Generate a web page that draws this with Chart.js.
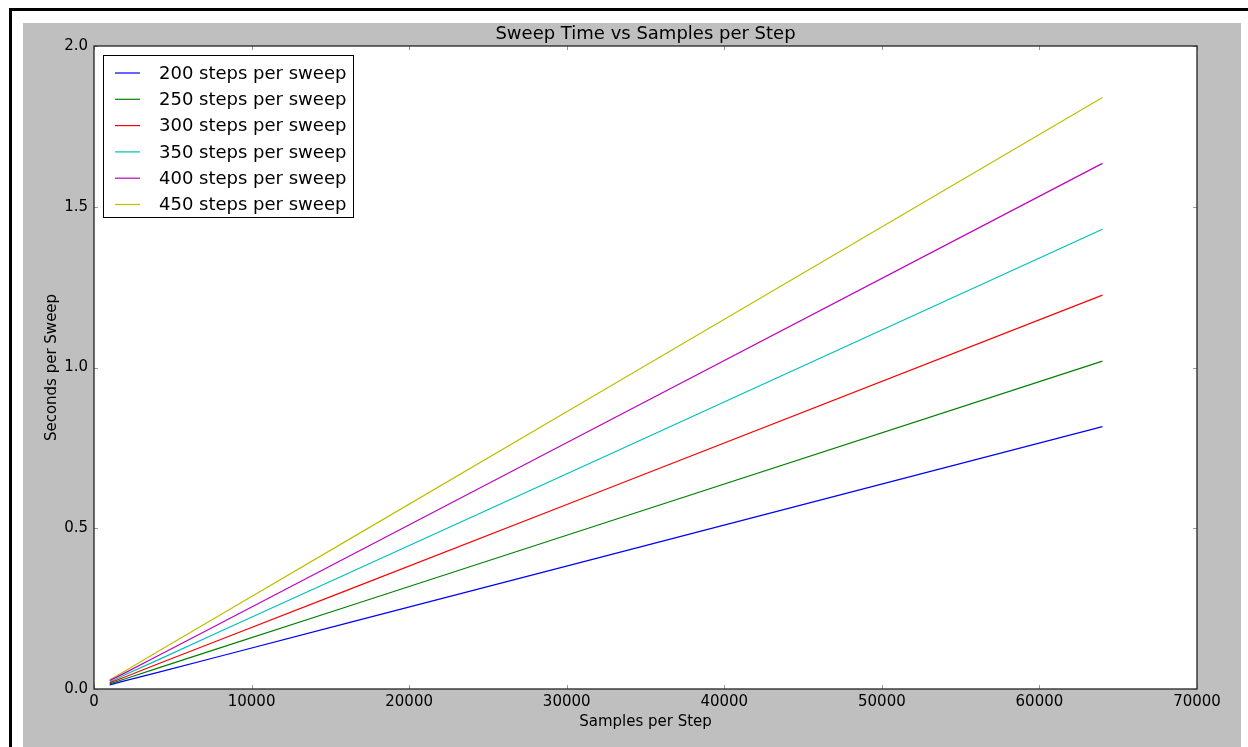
<!DOCTYPE html>
<html>
<head>
<meta charset="utf-8">
<title>Sweep Time vs Samples per Step</title>
<script src="https://cdn.jsdelivr.net/npm/chart.js@4/dist/chart.umd.min.js"></script>
<style>
  html, body { margin: 0; padding: 0; background: #fff; }
  canvas { display: block; }
</style>
</head>
<body>
<canvas id="sweepChart" width="1248" height="747"></canvas>
<script>
// samples per step (x) and seconds per sweep (y)
const samples = [1000, 2000, 4000, 8000, 16000, 32000, 64000];
const seriesLabels = [
  "200 steps per sweep", "250 steps per sweep", "300 steps per sweep",
  "350 steps per sweep", "400 steps per sweep", "450 steps per sweep"
];
const steps200 = [0.013, 0.026, 0.051, 0.102, 0.204, 0.408, 0.816];
const steps250 = [0.016, 0.032, 0.064, 0.128, 0.255, 0.510, 1.020];
const steps300 = [0.019, 0.038, 0.077, 0.153, 0.306, 0.612, 1.225];
const steps350 = [0.022, 0.045, 0.089, 0.179, 0.357, 0.714, 1.430];
const steps400 = [0.026, 0.051, 0.102, 0.204, 0.408, 0.817, 1.635];
const steps450 = [0.029, 0.057, 0.115, 0.230, 0.460, 0.920, 1.840];
const colors = ["#0000ff", "#008000", "#ff0000", "#00bfbf", "#bf00bf", "#bfbf00"];
const chartTitle = "Sweep Time vs Samples per Step";

const FONT = "'DejaVu Sans', Verdana, sans-serif";

const allSeries = [steps200, steps250, steps300, steps350, steps400, steps450];
const datasets = allSeries.map((vals, i) => ({
  label: seriesLabels[i],
  data: samples.map((s, j) => ({ x: s, y: vals[j] })),
  borderColor: colors[i],
  backgroundColor: colors[i],
  borderWidth: 1.2,
  pointRadius: 0,
  tension: 0,
  fill: false
}));

// grey figure background, outer frame, white axes area
const backdrop = {
  id: "backdrop",
  beforeDraw(chart) {
    const { ctx, chartArea: a } = chart;
    ctx.save();
    ctx.fillStyle = "#fff";
    ctx.fillRect(0, 0, chart.width, chart.height);
    ctx.fillStyle = "#000";
    ctx.fillRect(9, 8, chart.width - 9, 3);
    ctx.fillRect(9, 8, 3, chart.height - 8);
    ctx.fillStyle = "#bfbfbf";
    ctx.fillRect(23, 23, 1241 - 23, chart.height - 23);
    ctx.fillStyle = "#fff";
    ctx.fillRect(a.left, a.top, a.right - a.left, a.bottom - a.top);
    ctx.restore();
  }
};

// inward tick marks on all four sides, the axes frame and the title
const frame = {
  id: "frame",
  afterDraw(chart) {
    const { ctx, chartArea: a, scales } = chart;
    ctx.save();
    ctx.strokeStyle = "#999";
    ctx.lineWidth = 1;
    ctx.beginPath();
    scales.x.ticks.forEach(t => {
      const px = Math.round(scales.x.getPixelForValue(t.value)) + 0.5;
      ctx.moveTo(px, a.bottom); ctx.lineTo(px, a.bottom - 4);
      ctx.moveTo(px, a.top); ctx.lineTo(px, a.top + 4);
    });
    scales.y.ticks.forEach(t => {
      const py = Math.round(scales.y.getPixelForValue(t.value)) + 0.5;
      ctx.moveTo(a.left, py); ctx.lineTo(a.left + 4, py);
      ctx.moveTo(a.right, py); ctx.lineTo(a.right - 4, py);
    });
    ctx.stroke();
    ctx.strokeStyle = "#222";
    ctx.lineWidth = 1.3;
    ctx.strokeRect(a.left, a.top, a.right - a.left, a.bottom - a.top);

    // title centred over the axes, as matplotlib does
    ctx.fillStyle = "#000";
    ctx.font = "18px " + FONT;
    ctx.textAlign = "center";
    ctx.textBaseline = "middle";
    ctx.fillText(chartTitle, (a.left + a.right) / 2, a.top - 12);
    ctx.restore();
  }
};

// matplotlib style legend box in the upper left
const boxLegend = {
  id: "boxLegend",
  afterDatasetsDraw(chart) {
    const { ctx, chartArea: a } = chart;
    const x0 = a.left + 9, y0 = a.top + 9;
    const w = 250, h = 162, rowH = 26.3;
    ctx.save();
    ctx.fillStyle = "#fff";
    ctx.fillRect(x0, y0, w, h);
    ctx.strokeStyle = "#000";
    ctx.lineWidth = 1;
    ctx.strokeRect(x0 + 0.5, y0 + 0.5, w, h);
    ctx.font = "18px " + FONT;
    ctx.textBaseline = "middle";
    chart.data.datasets.forEach((ds, i) => {
      const y = y0 + 18 + i * rowH;
      ctx.strokeStyle = ds.borderColor;
      ctx.lineWidth = 1.2;
      ctx.beginPath();
      ctx.moveTo(x0 + 12, y); ctx.lineTo(x0 + 37, y);
      ctx.stroke();
      ctx.fillStyle = "#000";
      ctx.fillText(ds.label, x0 + 56, y + 1);
    });
    ctx.restore();
  }
};

new Chart(document.getElementById("sweepChart"), {
  type: "line",
  data: { datasets },
  options: {
    responsive: false,
    animation: false,
    layout: { padding: { left: 0, right: 51, top: 46, bottom: 0 } },
    plugins: {
      legend: { display: false },
      tooltip: { enabled: false },
      title: { display: false }
    },
    scales: {
      x: {
        type: "linear",
        min: 0, max: 70000,
        grid: { display: false, drawTicks: false },
        border: { display: false },
        ticks: {
          stepSize: 10000,
          color: "#000",
          padding: 4,
          maxRotation: 0,
          font: { family: FONT, size: 15 },
          callback: v => String(v)
        },
        title: {
          display: true,
          text: "Samples per Step",
          color: "#000",
          font: { family: FONT, size: 15 },
          padding: { top: 0, bottom: 16 }
        },
        afterFit: s => { s.height = 58; }
      },
      y: {
        min: 0, max: 2,
        grid: { display: false, drawTicks: false },
        border: { display: false },
        ticks: {
          stepSize: 0.5,
          color: "#000",
          padding: 6,
          font: { family: FONT, size: 15 },
          callback: v => v.toFixed(1)
        },
        title: {
          display: true,
          text: "Seconds per Sweep",
          color: "#000",
          font: { family: FONT, size: 15 },
          padding: { top: 43, bottom: 0 }
        },
        afterFit: s => { s.width = 94; }
      }
    }
  },
  plugins: [backdrop, frame, boxLegend]
});
</script>
</body>
</html>
